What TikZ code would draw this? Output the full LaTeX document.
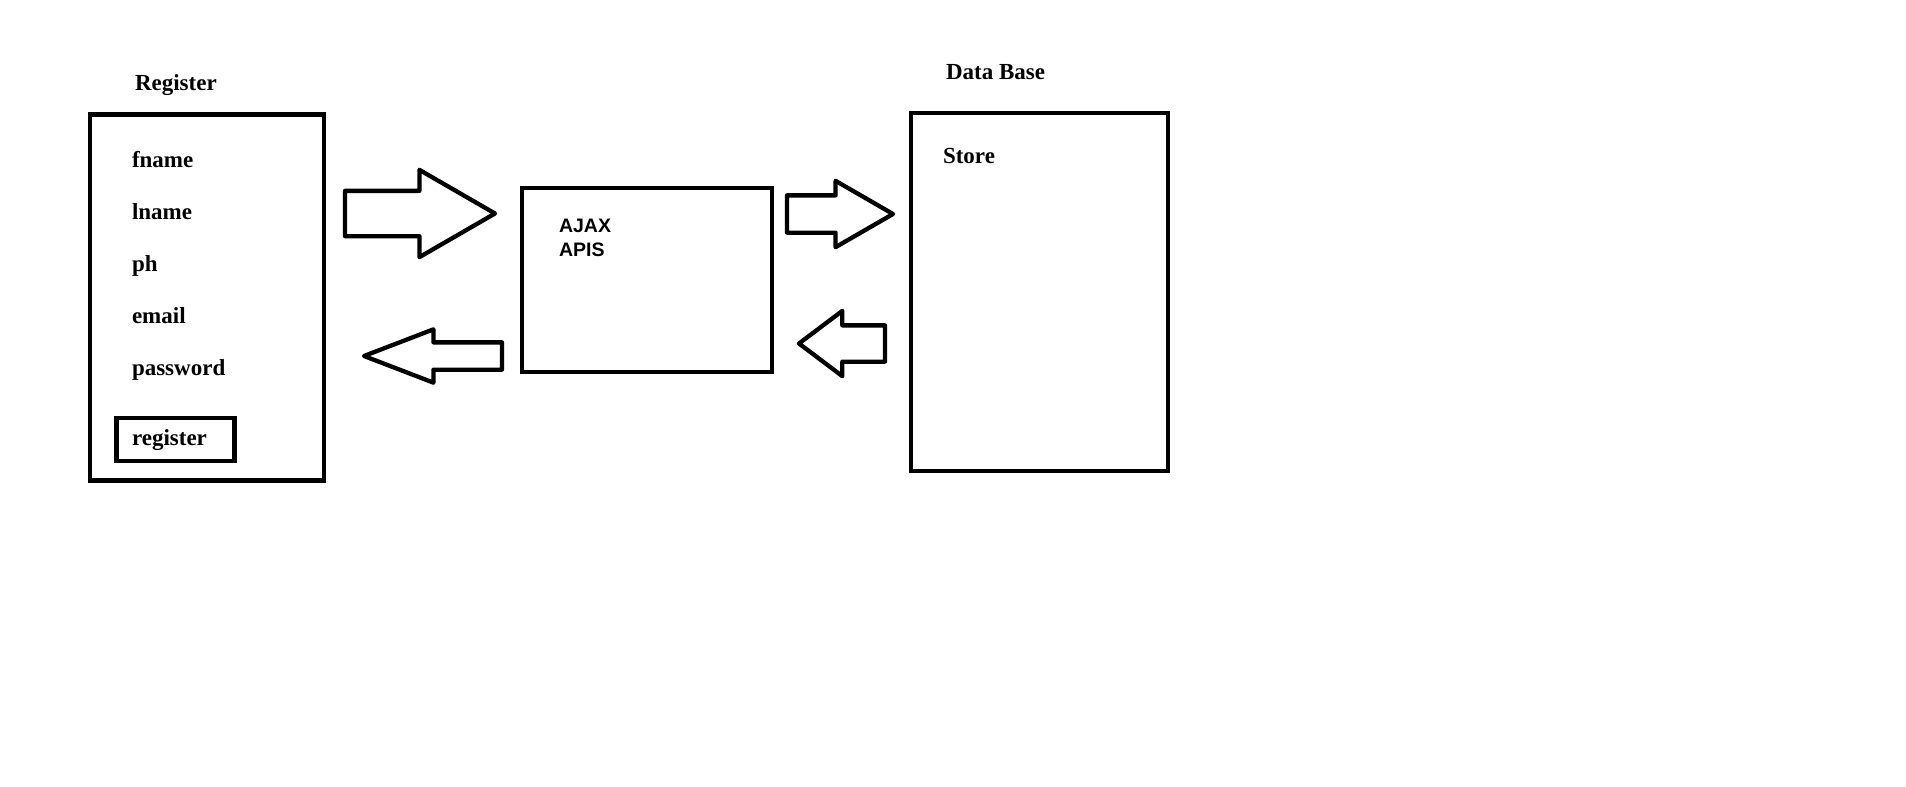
\documentclass[tikz,border=0pt]{standalone}
\usepackage{fontspec}
\setmainfont{Liberation Serif}
\newfontfamily\apifont{Liberation Sans}
\usetikzlibrary{shapes.arrows}

\begin{document}
\begin{tikzpicture}[x=1pt,y=-1pt]
   \tikzstyle{every node}=[inner sep=0pt, outer sep=0pt, font=\fontsize{23}{25}\selectfont\bfseries]
   \tikzstyle{box}=[draw, line width=4.3pt]
   \tikzstyle{field}=[anchor=base west]
   \tikzstyle{apifield}=[field, font=\apifont\fontsize{19.5}{21}\selectfont\bfseries]
   \tikzstyle{blockarrow}=[draw, single arrow, line width=4.3pt, line join=round, anchor=tip, inner xsep=0pt]

\useasboundingbox (0,0) rectangle (1906,787);

% register form
\node[field] (registertitle) at (135,90) {Register};
\node[box, minimum width=233.5pt, minimum height=366pt] (register) at (207,297.5) {};
\node[field] (fname) at (132,167) {fname};
\node[field] (lname) at (132,219) {lname};
\node[field] (ph) at (132,271) {ph};
\node[field] (email) at (132,323) {email};
\node[field] (password) at (132,375) {password};
\node[box, minimum width=118pt, minimum height=43pt] (btn) at (175.5,439.8) {};
\node[field] (btntext) at (132,445) {register};

% middle
\node[box, minimum width=250pt, minimum height=184pt] (ajax) at (647,280) {};
\node[apifield] (ajaxtext) at (559,232.5) {AJAX};
\node[apifield] (apistext) at (559,256.5) {APIS};

% data base
\node[field] (dbtitle) at (946,79) {Data Base};
\node[box, minimum width=257pt, minimum height=358pt] (database) at (1039.5,292) {};
\node[field] (store) at (943,163) {Store};

% arrows
\node[blockarrow, minimum height=150pt, inner ysep=20.5pt, single arrow head extend=21pt, single arrow tip angle=60] (toajax) at (495,213.5) {};
\node[blockarrow, minimum height=138pt, inner ysep=11.5pt, single arrow head extend=13pt, single arrow tip angle=42, shape border rotate=180] (toregister) at (364,356) {};
\node[blockarrow, minimum height=106pt, inner ysep=16.5pt, single arrow head extend=14.5pt, single arrow tip angle=60] (todb) at (893,214) {};
\node[blockarrow, minimum height=86pt, inner ysep=16pt, single arrow head extend=14.5pt, single arrow tip angle=74, shape border rotate=180] (fromdb) at (799,343.5) {};

\end{tikzpicture}
\end{document}
